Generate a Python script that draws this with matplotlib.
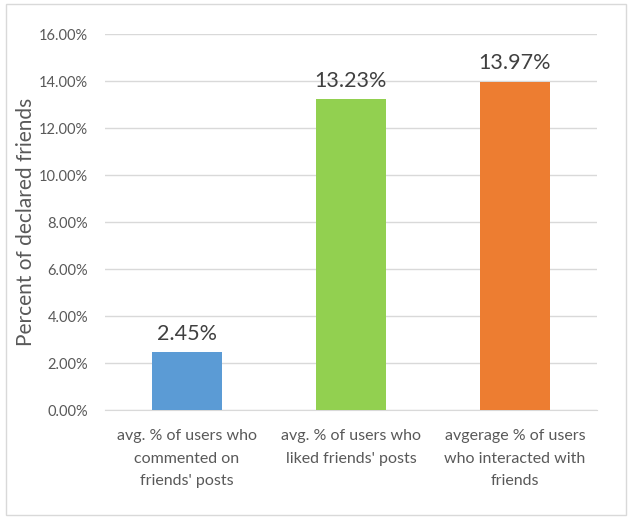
import matplotlib.pyplot as plt
from matplotlib.patches import Rectangle
from matplotlib.ticker import FuncFormatter

plt.rcParams['font.family'] = ['Lato', 'DejaVu Sans']

categories = [
    "avg. % of users who\ncommented on\nfriends' posts",
    "avg. % of users who\nliked friends' posts",
    "avgerage % of users\nwho interacted with\nfriends",
]
values = [2.45, 13.23, 13.97]
colors = ['#5B9BD5', '#92D050', '#ED7D31']
text_color = '#595959'

fig = plt.figure(figsize=(6.31, 5.20), dpi=100)
ax = fig.add_axes([0.1664, 0.2115, 0.7796, 0.7231])

x = range(len(values))
bars = ax.bar(x, values, width=0.43, color=colors, zorder=3)
for b, v in zip(bars, values):
    ax.text(b.get_x() + b.get_width() / 2, v + 0.35, f'{v:.2f}%',
            ha='center', va='bottom', fontsize=15.5, color='#404040')

ax.set_xlim(-0.5, 2.5)
ax.set_ylim(0, 16)
ax.set_yticks([0, 2, 4, 6, 8, 10, 12, 14, 16])
ax.yaxis.set_major_formatter(FuncFormatter(lambda v, p: f'{v:.2f}%'))
ax.grid(axis='y', color='#D9D9D9', linewidth=1, zorder=0)
ax.set_xticks(list(x))
ax.set_xticklabels(categories, fontsize=11.5, color=text_color, linespacing=1.75)
ax.tick_params(axis='y', length=0, labelsize=10.5, labelcolor=text_color, pad=12)
ax.tick_params(axis='x', length=0, pad=14)
for s in ['top', 'right', 'left']:
    ax.spines[s].set_visible(False)
ax.spines['bottom'].set_color('#D9D9D9')
ax.set_ylabel('Percent of declared friends', fontsize=15, color=text_color, labelpad=2)

fig.patches.append(Rectangle((6 / 631, 1 - 515 / 520), 620 / 631, 511 / 520,
                             transform=fig.transFigure, fill=False,
                             edgecolor='#D9D9D9', linewidth=1))

fig.savefig('out.png', dpi=100)
